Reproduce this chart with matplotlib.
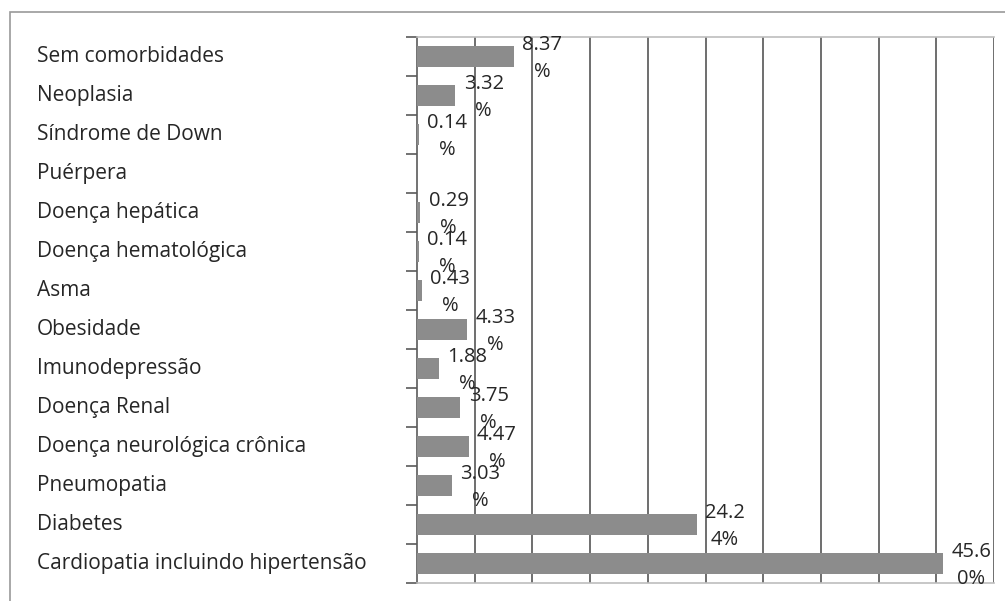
import matplotlib
matplotlib.use("Agg")
import matplotlib.pyplot as plt
from matplotlib.patches import Rectangle
from matplotlib import transforms
import numpy as np

categories = [
    "Sem comorbidades", "Neoplasia", "Síndrome de Down", "Puérpera",
    "Doença hepática", "Doença hematológica", "Asma", "Obesidade",
    "Imunodepressão", "Doença Renal", "Doença neurológica crônica",
    "Pneumopatia", "Diabetes", "Cardiopatia incluindo hipertensão",
]
values = [8.37, 3.32, 0.14, 0.0, 0.29, 0.14, 0.43, 4.33, 1.88, 3.75, 4.47, 3.03, 24.24, 45.60]
show_label = [True, True, True, False, True, True, True, True, True, True, True, True, True, True]
x_ticks = [0, 5, 10, 15, 20, 25, 30, 35, 40, 45, 50]

FONT = "Open Sans"
TXT = "#262626"

fig = plt.figure(figsize=(10.05, 6.01), dpi=100)
fig.patch.set_facecolor("white")
# outer frame
fig.add_artist(Rectangle((10 / 1005, -0.01), 1.2, 1 - 12 / 601 + 0.01, transform=fig.transFigure,
                         fill=False, edgecolor="#9a9a9a", linewidth=1.2))

ax = fig.add_axes([417 / 1005, 1 - 583 / 601, (994 - 417) / 1005, (583 - 37) / 601])
n = len(categories)
y = np.arange(n)
ax.barh(y, values, height=0.52, color="#8c8c8c", zorder=3)
ax.set_ylim(n - 0.5, -0.5)
ax.set_xlim(x_ticks[0], x_ticks[-1])

for xt in x_ticks[1:]:
    ax.axvline(xt, color="#6e6e6e", linewidth=1.4, zorder=1)

ax.set_xticks([])
ax.set_yticks(np.arange(n + 1) - 0.5)
ax.set_yticklabels([])
ax.tick_params(axis="y", direction="out", length=8, width=1.2, color="#5a5a5a")
ax.spines["left"].set_color("#5a5a5a")
ax.spines["left"].set_linewidth(1.2)
for s in ("top", "bottom"):
    ax.spines[s].set_color("#bdbdbd")
    ax.spines[s].set_linewidth(1.2)
ax.spines["right"].set_visible(False)

trans = transforms.blended_transform_factory(fig.transFigure, ax.transData)
for i, c in enumerate(categories):
    ax.text(37 / 1005, i, c, transform=trans, ha="left", va="center",
            fontsize=15, family=FONT, color=TXT, clip_on=False)

for i, (v, sh) in enumerate(zip(values, show_label)):
    if not sh:
        continue
    s = f"{v:.2f}%"
    lab = s[:4] + "\n" + s[4:]
    ax.annotate(lab, xy=(v, i), xytext=(6, -1.5), textcoords="offset points",
                ha="left", va="center", multialignment="center", linespacing=1.5,
                fontsize=14.5, family=FONT, color=TXT, zorder=5, annotation_clip=False)

fig.savefig("out.png", dpi=100)
